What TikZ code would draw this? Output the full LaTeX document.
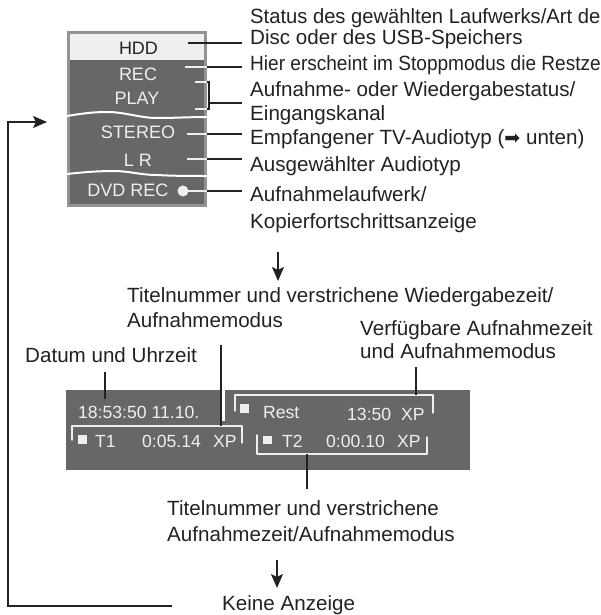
\documentclass[tikz,border=0pt]{standalone}
\usepackage{fontspec}
\setmainfont{Liberation Sans}
\newfontfamily\narrowA[FakeStretch=0.925]{Liberation Sans}
\newfontfamily\narrowB[FakeStretch=0.98]{Liberation Sans}
\usetikzlibrary{arrows.meta}
\definecolor{panel}{HTML}{676767}
\definecolor{frame}{HTML}{939393}
\definecolor{ink}{HTML}{222222}
\definecolor{soft}{HTML}{EFEFEF}
\tikzset{
  lbl/.style={anchor=base west,inner sep=0pt,font=\fontsize{20.6}{24}\selectfont,text=ink},
  ctr/.style={anchor=base,inner sep=0pt,font=\fontsize{18}{22}\selectfont,text=ink},
  pan/.style={anchor=base,inner sep=0pt,font=\fontsize{18}{22}\selectfont,text=soft},
  dsp/.style={anchor=base west,inner sep=0pt,font=\fontsize{17.6}{20}\selectfont,text=soft},
  lead/.style={draw=ink,line width=1.5pt},
  wlead/.style={draw=soft,line width=1.4pt},
  brk/.style={draw=soft,line width=1.4pt,line join=round,line cap=round},
  wave/.style={draw=white,line width=2pt},
  arr/.style={draw=ink,line width=1.5pt,-{Stealth[length=14pt,width=12pt,inset=3pt]}},
}
\begin{document}
\begin{tikzpicture}[x=1pt,y=-1pt]
\useasboundingbox (0,0) rectangle (601,615);
% first panel
\fill[panel,draw=frame,line width=3pt] (68.5,32.5) rectangle (205.5,205.5);
\fill[soft] (70,34) rectangle (204,60);
\draw[wave] (67,116) .. controls (85,113) and (95,112) .. (107,112) .. controls (125,112) and (140,118) .. (157,118) .. controls (175,118) and (190,117) .. (207,117);
\draw[wave] (67,174) .. controls (85,172) and (100,171) .. (113,171) .. controls (130,171) and (140,175) .. (157,175) .. controls (175,176) and (190,176) .. (207,176);
\node[ctr] (hdd) at (138.5,55) {HDD};
\node[pan] (rec) at (138,81) {REC};
\node[pan] (play) at (137,105) {PLAY};
\node[pan] (stereo) at (138,138) {STEREO};
\node[pan] (lr) at (138,166) {L R};
\node[pan] (dvd) at (128,196) {DVD REC};
\coordinate (dot) at (183,191);
\fill[soft] (dot) circle (5.5pt);
% first panel labels
\node[lbl,font=\narrowB\fontsize{20.6}{24}\selectfont] (t1) at (250,24) {Status des gewählten Laufwerks/Art de};
\node[lbl] (t2) at (250,45) {Disc oder des USB-Speichers};
\node[lbl,font=\narrowA\fontsize{20.6}{24}\selectfont] (t3) at (250,71) {Hier erscheint im Stoppmodus die Restze};
\node[lbl] (t4) at (250,97) {Aufnahme- oder Wiedergabestatus/};
\node[lbl] (t5) at (250,121) {Eingangskanal};
\node[lbl] (t6) at (250,144) {Empfangener TV-Audiotyp ({\fontspec{DejaVu Sans}\fontsize{19}{19}\selectfont ➡} unten)};
\node[lbl] (t7) at (250,171) {Ausgewählter Audiotyp};
\node[lbl] (t8) at (250,201) {Aufnahmelaufwerk/};
\node[lbl] (t9) at (250,228) {Kopierfortschrittsanzeige};
% leaders, panel part then outside part
\coordinate (e1) at (242,43); \coordinate (e3) at (242,67);
\coordinate (e4) at (242,103); \coordinate (e6) at (242,134);
\coordinate (e7) at (242,159); \coordinate (e8) at (242,191);
\draw[lead] (188,43) -- (e1);
\draw[wlead] (185,67) -- (207,67);
\draw[lead] (207,67) -- (e3);
\draw[wlead] (195,82) -- (207,82);
\draw[wlead] (195,109) -- (207,109);
\draw[lead] (207,82) -- (209,82) -- (209,109) -- (207,109);
\draw[lead] (209,103) -- (e4);
\draw[wlead] (187,134) -- (207,134);
\draw[lead] (207,134) -- (e6);
\draw[wlead] (187,159) -- (207,159);
\draw[lead] (207,159) -- (e7);
\draw[wlead] (dot) -- (207,191);
\draw[lead] (207,191) -- (e8);
% left loop
\coordinate (s0) at (172,606);
\coordinate (hd) at (47,122);
\draw[arr] (s0) -- (8,606) -- (8,122) -- (hd);
% down arrows
\coordinate (a1) at (278,252); \coordinate (a2) at (278,281);
\draw[arr] (a1) -- (a2);
\coordinate (a3) at (277,560); \coordinate (a4) at (277,588);
\draw[arr] (a3) -- (a4);
% second panel
\fill[panel] (66,390) rectangle (470,470);
\fill[white] (220,389) rectangle (225,421);
\node[lbl] (d1) at (127,302) {Titelnummer und verstrichene Wiedergabezeit/};
\node[lbl] (d2) at (127,327) {Aufnahmemodus};
\node[lbl] (d3) at (360,335) {Verfügbare Aufnahmezeit};
\node[lbl] (d4) at (360,358) {und Aufnahmemodus};
\node[lbl] (d5) at (25,362) {Datum und Uhrzeit};
\node[lbl] (d6) at (167,515) {Titelnummer und verstrichene};
\node[lbl] (d7) at (167,541) {Aufnahmezeit/Aufnahmemodus};
\node[lbl] (d8) at (222,610.5) {Keine Anzeige};
\node[dsp] (p1) at (78,418) {18:53:50 11.10.};
\node[dsp] (p2) at (95,447) {T1};
\node[dsp] (p3) at (142,447) {0:05.14};
\node[dsp] (p4) at (213,447) {XP};
\node[dsp] (p5) at (263,418) {Rest};
\node[dsp] (p6) at (347,420) {13:50};
\node[dsp] (p7) at (401,420) {XP};
\node[dsp] (p8) at (282,447) {T2};
\node[dsp] (p9) at (326,447) {0:00.10};
\node[dsp] (p10) at (397,447) {XP};
\fill[soft] (78,435) rectangle (87,444);
\fill[soft] (240,404) rectangle (249,413);
\fill[soft] (263,436) rectangle (272,444);
% brackets
\draw[brk] (72,440) -- (72,426) -- (242,426) -- (242,443);
\draw[brk] (235,411) -- (235,395) -- (433,395) -- (433,413);
\draw[brk] (257,435) -- (257,454) -- (427,454) -- (427,437);
% leaders second panel
\coordinate (b1) at (105,372); \coordinate (b2) at (105,399);
\draw[lead] (b1) -- (b2);
\coordinate (b3) at (221,345); \coordinate (b4) at (221,426);
\draw[lead] (b3) -- (b4);
\coordinate (b5) at (416,367); \coordinate (b6) at (416,395);
\draw[lead] (b5) -- (b6);
\coordinate (b7) at (307,454); \coordinate (b8) at (307,489);
\draw[lead] (b7) -- (b8);
\end{tikzpicture}
\end{document}
